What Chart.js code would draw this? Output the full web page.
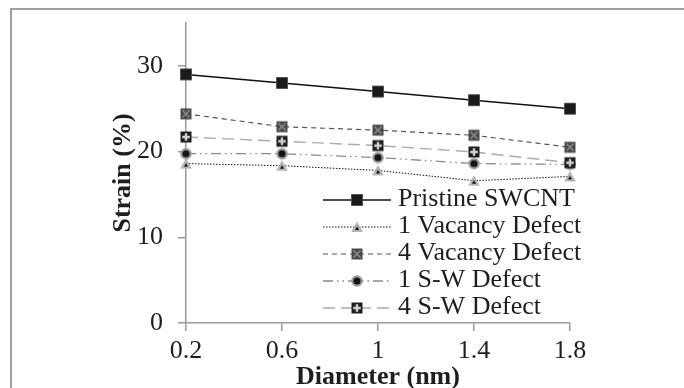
<!DOCTYPE html>
<html>
<head>
<meta charset="utf-8">
<script src="https://cdn.jsdelivr.net/npm/chart.js@4.4.1/dist/chart.umd.min.js"></script>
<style>
  html, body { margin: 0; padding: 0; background: #fff; }
  #wrap { position: relative; width: 684px; height: 388px; }
</style>
</head>
<body>
<div id="wrap"><canvas id="strainChart"></canvas></div>
<script>
// values
const diameters = ['0.2', '0.6', '1', '1.4', '1.8'];
const pristine = [29, 28, 27, 26, 25];
const vacancy1 = [18.6, 18.35, 17.8, 16.6, 17.1];
const vacancy4 = [24.4, 22.9, 22.5, 21.9, 20.5];
const sw1 = [19.75, 19.75, 19.3, 18.6, 18.5];
const sw4 = [21.7, 21.2, 20.7, 19.95, 18.7];
const seriesNames = ['Pristine SWCNT', '1 Vacancy Defect', '4 Vacancy Defect', '1 S-W Defect', '4 S-W Defect'];
const yTicks = [0, 10, 20, 30];

const FONT = '"Liberation Serif", "Times New Roman", serif';
const AXIS_GRAY = '#9a9a9a';

// small canvases used as point markers
function marker(kind) {
  const c = document.createElement('canvas');
  c.width = 14; c.height = 14;
  const g = c.getContext('2d');
  if (kind === 'square') {
    g.fillStyle = '#8a8a8a'; g.fillRect(1, 1, 12, 12);
    g.fillStyle = '#1a1a1a'; g.fillRect(1.5, 1.5, 11, 11);
  } else if (kind === 'triangle') {
    g.fillStyle = '#b4b4b4';
    g.beginPath(); g.moveTo(7, 1.5); g.lineTo(12.8, 12); g.lineTo(1.2, 12); g.closePath(); g.fill();
    g.fillStyle = '#111';
    g.beginPath(); g.moveTo(7, 6.5); g.lineTo(9, 10); g.lineTo(5, 10); g.closePath(); g.fill();
  } else if (kind === 'xsquare') {
    g.fillStyle = '#4a4a4a'; g.fillRect(1.5, 1.5, 11, 11);
    g.strokeStyle = '#8c8c8c'; g.lineWidth = 1.5;
    g.beginPath(); g.moveTo(3.5, 3.5); g.lineTo(10.5, 10.5); g.moveTo(10.5, 3.5); g.lineTo(3.5, 10.5); g.stroke();
  } else if (kind === 'circle') {
    g.fillStyle = '#9c9c9c';
    g.beginPath(); g.arc(7, 7, 5.8, 0, Math.PI * 2); g.fill();
    g.fillStyle = '#151515';
    g.beginPath(); g.arc(7, 7, 3.6, 0, Math.PI * 2); g.fill();
  } else if (kind === 'plus') {
    g.fillStyle = '#1e1e1e'; g.fillRect(1.5, 1.5, 11, 11);
    g.strokeStyle = '#d0d0d0'; g.lineWidth = 2.4;
    g.beginPath(); g.moveTo(7, 3.2); g.lineTo(7, 10.8); g.moveTo(3.2, 7); g.lineTo(10.8, 7); g.stroke();
  }
  return c;
}

function series(label, data, color, width, dash, kind, order) {
  return {
    label, data, order,
    borderColor: color, borderWidth: width, borderDash: dash,
    pointStyle: marker(kind), pointRadius: 7, pointHoverRadius: 7,
    tension: 0, fill: false
  };
}

const datasets = [
  series(seriesNames[0], pristine, '#111', 1.5, [], 'square', 0),
  series(seriesNames[1], vacancy1, '#111', 1, [1.5, 1.5], 'triangle', 4),
  series(seriesNames[2], vacancy4, '#555', 1.2, [5, 4], 'xsquare', 2),
  series(seriesNames[3], sw1, '#8c8c8c', 1.3, [10, 4, 1.5, 4, 1.5, 4], 'circle', 3),
  series(seriesNames[4], sw4, '#ababab', 1.4, [12, 6], 'plus', 1)
];

// gray frame along the top and left of the figure
const framePlugin = {
  id: 'frame',
  beforeDraw(chart) {
    const ctx = chart.ctx;
    ctx.save();
    ctx.strokeStyle = '#a0a0a0';
    ctx.lineWidth = 2;
    ctx.beginPath();
    ctx.moveTo(684, 9); ctx.lineTo(11, 9); ctx.lineTo(11, 388);
    ctx.stroke();
    ctx.restore();
  }
};

// legend drawn inside the plot, line sample + marker + label
const legendPlugin = {
  id: 'insideLegend',
  afterDraw(chart) {
    const ctx = chart.ctx;
    const area = chart.chartArea;
    const x0 = area.left + 137, x1 = area.left + 205, mx = area.left + 171, tx = area.left + 212;
    let y = 200;
    ctx.save();
    chart.data.datasets.forEach(ds => {
      ctx.strokeStyle = ds.borderColor;
      ctx.lineWidth = ds.borderWidth;
      ctx.setLineDash(ds.borderDash);
      ctx.beginPath(); ctx.moveTo(x0, y); ctx.lineTo(x1, y); ctx.stroke();
      ctx.setLineDash([]);
      ctx.drawImage(ds.pointStyle, mx - 7, y - 7);
      ctx.fillStyle = '#1e1e1e';
      ctx.font = '26px ' + FONT;
      ctx.textBaseline = 'middle';
      ctx.textAlign = 'left';
      ctx.fillText(ds.label, tx, y - 1);
      y += 27;
    });
    ctx.restore();
  }
};

new Chart(document.getElementById('strainChart'), {
  type: 'line',
  data: { labels: diameters, datasets },
  plugins: [framePlugin, legendPlugin],
  options: {
    responsive: true,
    maintainAspectRatio: false,
    animation: false,
    layout: { padding: { left: 100, top: 23, right: 114, bottom: 0 } },
    plugins: { legend: { display: false }, tooltip: { enabled: false } },
    scales: {
      x: {
        type: 'category',
        offset: false,
        grid: { drawOnChartArea: false, drawTicks: true, tickLength: 8, color: AXIS_GRAY, lineWidth: 1.5 },
        border: { color: AXIS_GRAY, width: 1.5 },
        ticks: { color: '#1e1e1e', padding: 5, font: { family: FONT, size: 26 }, maxRotation: 0 },
        title: { display: true, text: 'Diameter (nm)', color: '#1e1e1e', padding: { top: 0, bottom: -2 },
                 font: { family: FONT, size: 26, weight: 'bold', lineHeight: 1 } },
        afterFit(scale) { scale.height = 65; scale.paddingLeft = 0; scale.paddingRight = 0; }
      },
      y: {
        min: 0, max: 35,
        afterBuildTicks(scale) { scale.ticks = yTicks.map(v => ({ value: v })); },
        grid: { drawOnChartArea: false, drawTicks: true, tickLength: 8, color: AXIS_GRAY, lineWidth: 1.5 },
        border: { color: AXIS_GRAY, width: 1.5 },
        ticks: { color: '#1e1e1e', padding: 15, font: { family: FONT, size: 26 } },
        title: { display: true, text: 'Strain (%)', color: '#1e1e1e', padding: { top: 10, bottom: 0 },
                 font: { family: FONT, size: 26, weight: 'bold', lineHeight: 1 } },
        afterFit(scale) { scale.width = 86; scale.paddingTop = 0; scale.paddingBottom = 0; }
      }
    }
  }
});
</script>
</body>
</html>
